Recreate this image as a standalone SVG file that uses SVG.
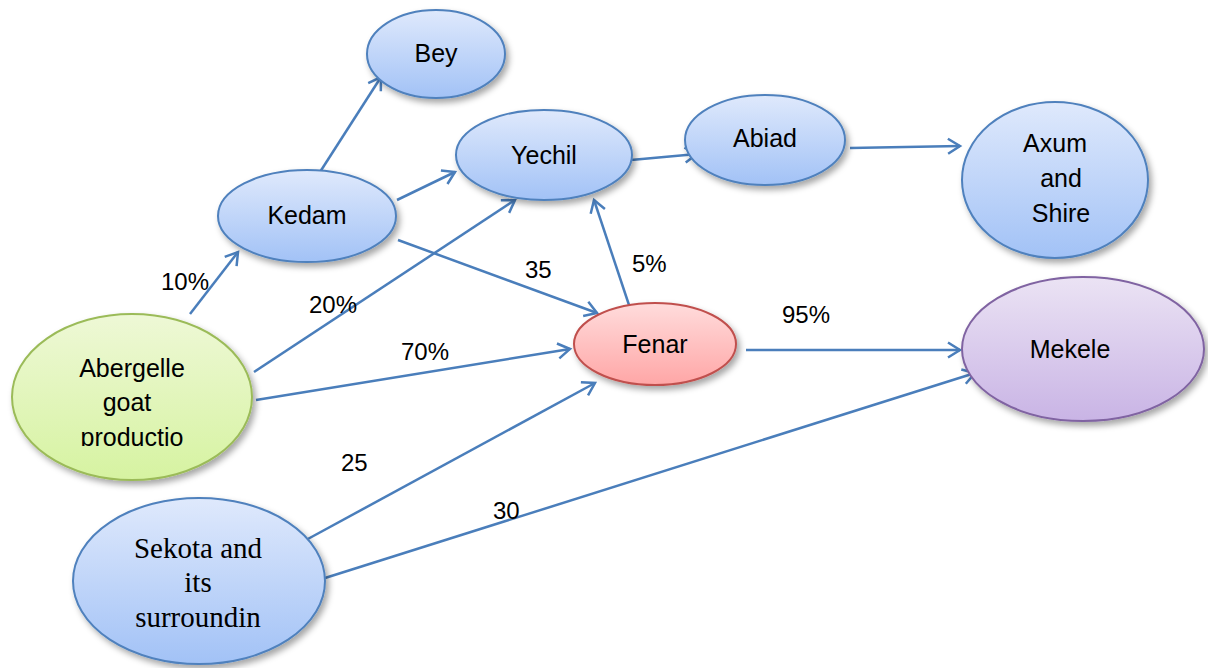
<svg xmlns="http://www.w3.org/2000/svg" width="1208" height="668" viewBox="0 0 1208 668">
<style>
.sans{font-family:"Liberation Sans",Arial,sans-serif;font-size:25px;fill:#000;text-anchor:middle}
.serif{font-family:"Liberation Serif","Times New Roman",serif;font-size:29px;fill:#000;text-anchor:middle}
.lbl{font-family:"Liberation Sans",Arial,sans-serif;font-size:24px;fill:#000}
.conn line{stroke:#4a7ebb;stroke-width:2.5;fill:none;marker-end:url(#arr)}
.blue{fill:url(#gBlue);stroke:#4f81bd;stroke-width:2}
.green{fill:url(#gGreen);stroke:#9bbb59;stroke-width:2}
.red{fill:url(#gRed);stroke:#c0504d;stroke-width:2}
.purple{fill:url(#gPurple);stroke:#8064a2;stroke-width:2}
.node ellipse{filter:url(#sh)}
</style>
<defs>
<linearGradient id="gBlue" x1="0" y1="0" x2="0" y2="1"><stop offset="0" stop-color="#dfe9fc"/><stop offset="1" stop-color="#a2c2f6"/></linearGradient>
<linearGradient id="gGreen" x1="0" y1="0" x2="0" y2="1"><stop offset="0" stop-color="#eef8d6"/><stop offset="1" stop-color="#d6f3a1"/></linearGradient>
<linearGradient id="gRed" x1="0" y1="0" x2="0" y2="1"><stop offset="0" stop-color="#ffdcdc"/><stop offset="1" stop-color="#ffa6a6"/></linearGradient>
<linearGradient id="gPurple" x1="0" y1="0" x2="0" y2="1"><stop offset="0" stop-color="#ebe3f4"/><stop offset="1" stop-color="#c9b4e5"/></linearGradient>
<filter id="sh" x="-20%" y="-20%" width="150%" height="150%"><feDropShadow dx="3" dy="4" stdDeviation="3" flood-color="#000" flood-opacity="0.35"/></filter>
<marker id="arr" markerUnits="userSpaceOnUse" markerWidth="20" markerHeight="20" refX="15" refY="9" orient="auto"><path d="M3,1.5 L15,9 L3,16.5" fill="none" stroke="#4a7ebb" stroke-width="2.5"/></marker>
<clipPath id="cAb"><rect x="0" y="300" width="300" height="146"/></clipPath>
<clipPath id="cAx"><rect x="950" y="100" width="220" height="123"/></clipPath>
</defs>

<g id="connectors" class="conn">
<line x1="190" y1="314" x2="238" y2="252"/>
<line x1="320" y1="172" x2="381" y2="77"/>
<line x1="397" y1="200" x2="455" y2="172"/>
<line x1="254" y1="372" x2="515" y2="200"/>
<line x1="398" y1="240" x2="597" y2="313"/>
<line x1="256" y1="400" x2="570" y2="349"/>
<line x1="631" y1="160" x2="697" y2="154"/>
<line x1="629" y1="305" x2="594" y2="200"/>
<line x1="850" y1="148" x2="960" y2="146"/>
<line x1="746" y1="350" x2="960" y2="350"/>
<line x1="306" y1="540" x2="595" y2="383"/>
<line x1="325" y1="578" x2="975" y2="373"/>
</g>

<g id="labels">
<text class="lbl" x="161" y="290">10%</text>
<text class="lbl" x="309" y="313">20%</text>
<text class="lbl" x="401" y="360">70%</text>
<text class="lbl" x="525" y="278">35</text>
<text class="lbl" x="632" y="272">5%</text>
<text class="lbl" x="782" y="323">95%</text>
<text class="lbl" x="341" y="471">25</text>
<text class="lbl" x="493" y="519">30</text>
</g>

<g id="bey" class="node"><ellipse class="blue" cx="436" cy="54" rx="69" ry="44"/><text class="sans" x="436" y="62">Bey</text></g>
<g id="kedam" class="node"><ellipse class="blue" cx="307" cy="216" rx="89" ry="46"/><text class="sans" x="307" y="224">Kedam</text></g>
<g id="yechil" class="node"><ellipse class="blue" cx="544" cy="155" rx="88" ry="45"/><text class="sans" x="544" y="164">Yechil</text></g>
<g id="abiad" class="node"><ellipse class="blue" cx="765" cy="140" rx="80" ry="45"/><text class="sans" x="765" y="147">Abiad</text></g>
<g id="axum" class="node"><ellipse class="blue" cx="1055" cy="180" rx="93" ry="78"/>
<g clip-path="url(#cAx)"><text class="sans" x="1055" y="152">Axum</text><text class="sans" x="1061" y="187">and</text><text class="sans" x="1061" y="222">Shire</text></g></g>
<g id="fenar" class="node"><ellipse class="red" cx="655" cy="344" rx="81" ry="41"/><text class="sans" x="655" y="353">Fenar</text></g>
<g id="mekele" class="node"><ellipse class="purple" cx="1083" cy="349" rx="121" ry="72"/><text class="sans" x="1070" y="358">Mekele</text></g>
<g id="abergelle" class="node"><ellipse class="green" cx="132" cy="397" rx="120" ry="83"/>
<g clip-path="url(#cAb)"><text class="sans" x="132" y="377">Abergelle</text><text class="sans" x="127" y="411">goat</text><text class="sans" x="132" y="446">productio</text></g></g>
<g id="sekota" class="node"><ellipse class="blue" cx="199" cy="581" rx="126" ry="83"/>
<text class="serif" x="198" y="558">Sekota and</text><text class="serif" x="198" y="592">its</text><text class="serif" x="198" y="627">surroundin</text></g>
</svg>
